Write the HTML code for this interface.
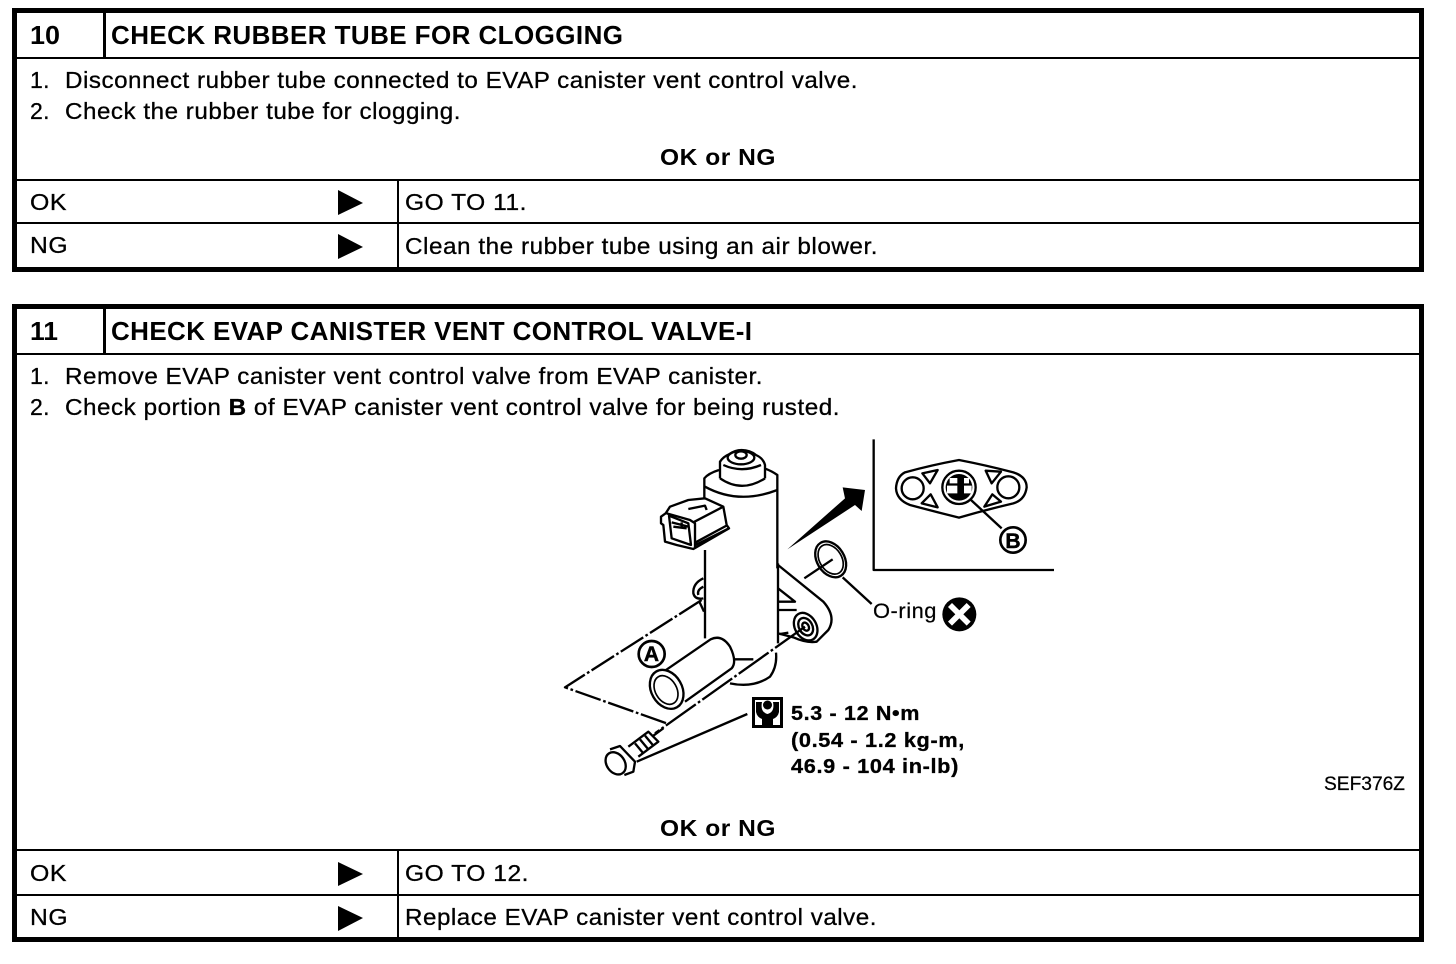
<!DOCTYPE html>
<html><head><meta charset="utf-8"><style>
html,body{margin:0;padding:0;background:#fff;width:1456px;height:964px;overflow:hidden}
svg{display:block}
text{font-family:"Liberation Sans",sans-serif;fill:#000;}
.b{font-size:23px;stroke:#000;stroke-width:.3px;letter-spacing:.5px}
.h{font-size:26px;font-weight:bold}
.o{font-size:23px;font-weight:bold;letter-spacing:.5px}
.t{font-size:20px;font-weight:bold;stroke:#000;stroke-width:.3px;letter-spacing:.6px}
.d path,.d ellipse,.d circle{fill:none;stroke:#000;stroke-width:7;stroke-linejoin:round}
</style></head><body>
<svg width="1456" height="964" viewBox="0 0 1456 964" xmlns="http://www.w3.org/2000/svg">
<rect width="1456" height="964" fill="#fff"/>
<!-- Box 10 -->
<rect x="14.500" y="10.500" width="1407" height="259" fill="none" stroke="#000" stroke-width="5"/>
<rect x="16" y="57" width="1405" height="2"/>
<rect x="103" y="12" width="3" height="46"/>
<rect x="16" y="179" width="1405" height="2"/>
<rect x="16" y="222" width="1405" height="2"/>
<rect x="397" y="180" width="2" height="92"/>
<text class="h" x="30" y="44" textLength="30" lengthAdjust="spacingAndGlyphs">10</text>
<text class="h" x="111" y="44" textLength="512" lengthAdjust="spacing">CHECK RUBBER TUBE FOR CLOGGING</text>
<text class="b" x="30" y="88" textLength="20" lengthAdjust="spacing">1.</text>
<text class="b" x="65" y="88" textLength="793" lengthAdjust="spacingAndGlyphs">Disconnect rubber tube connected to EVAP canister vent control valve.</text>
<text class="b" x="30" y="119" textLength="20" lengthAdjust="spacing">2.</text>
<text class="b" x="65" y="119" textLength="396" lengthAdjust="spacingAndGlyphs">Check the rubber tube for clogging.</text>
<text class="o" x="660" y="165" textLength="116" lengthAdjust="spacingAndGlyphs">OK or NG</text>
<text class="b" x="30" y="210" textLength="37" lengthAdjust="spacingAndGlyphs">OK</text>
<path d="M338 190 L363 203 L338 215 Z"/>
<text class="b" x="405" y="210" textLength="122" lengthAdjust="spacingAndGlyphs">GO TO 11.</text>
<text class="b" x="30" y="253" textLength="38" lengthAdjust="spacingAndGlyphs">NG</text>
<path d="M338 234 L363 247 L338 259 Z"/>
<text class="b" x="405" y="254" textLength="473" lengthAdjust="spacingAndGlyphs">Clean the rubber tube using an air blower.</text>
<!-- Box 11 -->
<rect x="14.500" y="306.500" width="1407" height="633" fill="none" stroke="#000" stroke-width="5"/>
<rect x="16" y="353" width="1405" height="2"/>
<rect x="103" y="308" width="3" height="46"/>
<rect x="16" y="849" width="1405" height="2"/>
<rect x="16" y="894" width="1405" height="2"/>
<rect x="397" y="850" width="2" height="90"/>
<text class="h" x="30" y="340" textLength="28" lengthAdjust="spacingAndGlyphs">11</text>
<text class="h" x="111" y="340" textLength="641" lengthAdjust="spacing">CHECK EVAP CANISTER VENT CONTROL VALVE-I</text>
<text class="b" x="30" y="384" textLength="20" lengthAdjust="spacing">1.</text>
<text class="b" x="65" y="384" textLength="698" lengthAdjust="spacingAndGlyphs">Remove EVAP canister vent control valve from EVAP canister.</text>
<text class="b" x="30" y="415" textLength="20" lengthAdjust="spacing">2.</text>
<text class="b" x="65" y="415" textLength="775" lengthAdjust="spacingAndGlyphs">Check portion <tspan font-weight="bold">B</tspan> of EVAP canister vent control valve for being rusted.</text>
<text class="o" x="660" y="836" textLength="116" lengthAdjust="spacingAndGlyphs">OK or NG</text>
<text class="b" x="30" y="881" textLength="37" lengthAdjust="spacingAndGlyphs">OK</text>
<path d="M338 862 L363 874 L338 886 Z"/>
<text class="b" x="405" y="881" textLength="124" lengthAdjust="spacingAndGlyphs">GO TO 12.</text>
<text class="b" x="30" y="925" textLength="38" lengthAdjust="spacingAndGlyphs">NG</text>
<path d="M338 906 L363 918 L338 931 Z"/>
<text class="b" x="405" y="925" textLength="472" lengthAdjust="spacingAndGlyphs">Replace EVAP canister vent control valve.</text>
<!-- Valve drawing -->
<g class="d" transform="translate(540 430) scale(.33333)">
<path d="M495 625V360"/>
<path d="M714 640V400"/>
<!-- bracket -->
<path d="M714 405L850 515Q890 560 865 600L830 635Q800 640 760 622L714 610"/>
<path d="M714 475L765 515H714M714 540H770M720 612L745 608"/>
<ellipse cx="797" cy="590" rx="32" ry="44" transform="rotate(-30 797 590)"/>
<ellipse cx="797" cy="590" rx="20" ry="28" transform="rotate(-30 797 590)"/>
<ellipse cx="797" cy="590" rx="9" ry="13" transform="rotate(-30 797 590)"/>
<path d="M490 445Q458 460 460 490Q465 510 490 505M490 470Q470 480 475 495M478 515L492 545"/>
<!-- cylinder A -->
<path d="M375 722L512 628Q545 612 570 650Q592 695 575 715L435 815"/>
<ellipse cx="380" cy="778" rx="46" ry="62" transform="rotate(-30 380 778)"/>
<ellipse cx="378" cy="780" rx="32" ry="46" transform="rotate(-30 378 780)" style="stroke-width:5"/>
<path d="M585 688H640M570 760Q640 775 690 740Q712 710 708 668"/>
<!-- dash-dot -->
<path d="M485 510L75 772L380 880" stroke-dasharray="80 8 8 8"/>
<path d="M795 590L345 910" stroke-dasharray="110 8 8 8"/>
<path d="M290 995L622 852"/>
<circle cx="335" cy="672" r="39" style="stroke-width:8"/>
</g>
<text x="651.500" y="661" text-anchor="middle" style="font-size:21px;font-weight:bold;stroke:#000;stroke-width:.5px">A</text>
<!-- Bolt -->
<g class="d" transform="translate(595 720) scale(.33333)">
<path d="M100 80L160 35L190 65L130 110"/>
<path d="M120 70L145 100M135 58L160 88M150 47L175 77"/>
<path d="M45 88L75 78L120 125L115 155L88 165"/>
<path d="M175 47L205 25"/>
<ellipse cx="62" cy="130" rx="27" ry="36" transform="rotate(-35 62 130)" style="fill:#fff"/>
</g>
<!-- Cylinder top / connector -->
<g class="d" transform="translate(655 445) scale(.33333)">
<path d="M148 160V100Q160 85 192 75M367 370V90Q350 78 328 70"/>
<path d="M150 125Q250 180 367 135"/>
<path d="M195 100V50Q205 35 222 28Q240 15 260 15Q285 15 303 30Q325 40 330 60V100M195 100Q260 145 330 100"/>
<path d="M205 60Q260 85 318 60"/>
<ellipse cx="258" cy="38" rx="40" ry="20"/>
<ellipse cx="258" cy="30" rx="17" ry="11"/>
<path d="M45 185L100 165L150 160L205 185L215 240L222 250L115 312L65 300L30 290L25 240L18 235V215L32 205Z" style="fill:#fff"/>
<path d="M35 205L105 225L120 235V310M115 232L205 185M120 293L218 240M120 301L222 250"/>
<path d="M42 212L100 235L108 300L50 280Z"/>
<path d="M50 232L100 245M55 245L95 250M80 232V245"/>
<path d="M100 192L150 182L155 195"/>
</g>
<!-- Wrench icon -->
<rect x="752" y="697" width="31" height="31"/>
<rect x="755" y="700" width="25" height="25" fill="#fff"/>
<path d="M756 702H762Q760 712 767.500 714Q775 712 773 702H779V712Q778 717 773 719V725H762V719Q757 717 756 712Z"/>
<circle cx="767.500" cy="705" r="4.500"/>
<text class="t" x="791" y="720" textLength="129" lengthAdjust="spacingAndGlyphs">5.3 - 12 N•m</text>
<text class="t" x="791" y="747" textLength="174" lengthAdjust="spacingAndGlyphs">(0.54 - 1.2 kg-m,</text>
<text class="t" x="791" y="773" textLength="168" lengthAdjust="spacingAndGlyphs">46.9 - 104 in-lb)</text>
<text x="1324" y="790" textLength="81" lengthAdjust="spacingAndGlyphs" style="font-size:19px;stroke:#000;stroke-width:.25px">SEF376Z</text>
<!-- Inset -->
<g class="d" transform="translate(760 430) scale(.33333)">
<path d="M82 358L255 205L248 172L315 180L305 243L285 225Z" style="fill:#000;stroke:none"/>
<ellipse cx="212" cy="388" rx="41" ry="58" transform="rotate(-32 212 388)"/>
<ellipse cx="212" cy="388" rx="33" ry="48" transform="rotate(-32 212 388)" style="stroke-width:5"/>
<path d="M133 445L218 388M248 442L335 522"/>
<path d="M341 28V420H882" style="stroke-width:7"/>
<circle cx="598" cy="553" r="51" style="fill:#000;stroke:none"/>
<path d="M570 525L626 581M626 525L570 581" style="stroke:#fff;stroke-width:17"/>
</g>
<g class="d" transform="translate(885 450) scale(.33333)">
<path d="M60 67Q140 45 222 30Q300 45 385 67Q425 80 425 112Q420 150 385 160Q300 180 222 203Q150 185 75 165Q35 150 33 115Q35 80 60 67Z"/>
<circle cx="83" cy="115" r="33"/>
<circle cx="370" cy="112" r="33"/>
<path d="M112 70L158 60L135 100ZM137 133L158 172L110 160ZM302 62L348 65L320 100ZM322 133L348 155L298 170Z"/>
<circle cx="222" cy="112" r="50"/>
<circle cx="222" cy="112" r="40" style="fill:#000;stroke:none"/>
<path d="M194 84H217V100H194ZM237 84H252V100H237ZM186 107H217V130H186ZM237 107H260V130H237Z" style="fill:#fff;stroke:none"/>
<path d="M258 150L350 235"/>
<circle cx="384" cy="270" r="38" style="stroke-width:8;fill:#fff"/>
</g>
<text x="1013" y="548" text-anchor="middle" style="font-size:21px;font-weight:bold;stroke:#000;stroke-width:.5px">B</text>
<text x="873" y="618" textLength="64" lengthAdjust="spacingAndGlyphs" style="font-size:21px;stroke:#000;stroke-width:.2px;letter-spacing:.5px">O-ring</text>
</svg>
</body></html>
